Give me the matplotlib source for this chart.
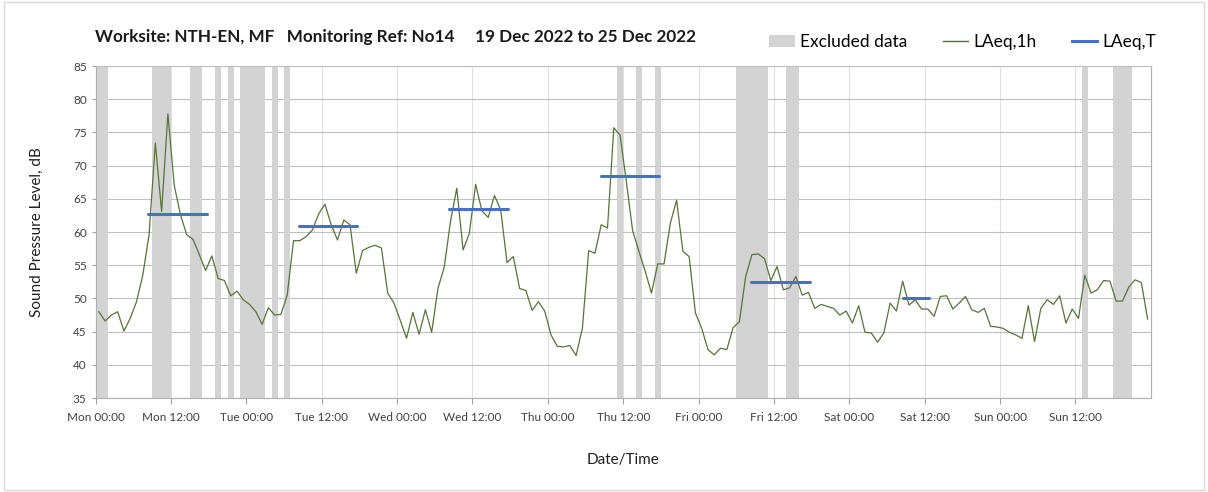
import numpy as np
import matplotlib.pyplot as plt
from matplotlib.patches import Patch, Rectangle
from matplotlib.lines import Line2D

plt.rcParams['font.family'] = ['Lato', 'DejaVu Sans']

# hourly LAeq,1h values, Mon 00:00 .. Sun 23:00 (one per hour)
laeq_1h = [
    48.0, 46.6, 47.5, 48.0, 45.1, 47.0, 49.5, 53.5, 59.6, 73.4, 63.1, 77.8,
    67.1, 62.6, 59.6, 58.9, 56.6, 54.2, 56.4, 53.0, 52.7, 50.4, 51.1, 49.8,
    49.1, 48.0, 46.1, 48.6, 47.5, 47.6, 50.5, 58.7, 58.7, 59.3, 60.3, 62.7,
    64.2, 61.1, 58.8, 61.8, 61.1, 53.8, 57.2, 57.7, 58.0, 57.6, 50.8, 49.3,
    46.7, 44.0, 47.9, 44.6, 48.3, 44.9, 51.5, 54.7, 61.6, 66.6, 57.3, 59.8,
    67.2, 63.2, 62.2, 65.5, 63.3, 55.4, 56.3, 51.5, 51.2, 48.2, 49.5, 48.1,
    44.5, 42.8, 42.7, 42.9, 41.4, 45.5, 57.2, 56.8, 61.1, 60.6, 75.7, 74.6,
    67.6, 60.2, 57.1, 54.1, 50.8, 55.2, 55.2, 61.3, 64.8, 57.1, 56.3, 47.8,
    45.5, 42.3, 41.5, 42.5, 42.3, 45.6, 46.5, 53.3, 56.6, 56.7, 56.0, 52.7,
    54.8, 51.3, 51.6, 53.3, 50.5, 50.9, 48.5, 49.1, 48.8, 48.5, 47.5, 48.1,
    46.3, 48.9, 44.9, 44.8, 43.4, 44.8, 49.3, 48.1, 52.6, 49.0, 49.8, 48.4,
    48.4, 47.3, 50.3, 50.4, 48.4, 49.3, 50.3, 48.3, 47.9, 48.5, 45.8, 45.7,
    45.5, 44.9, 44.5, 44.0, 48.9, 43.5, 48.5, 49.8, 49.1, 50.4, 46.3, 48.4,
    47.0, 53.5, 50.8, 51.3, 52.7, 52.6, 49.6, 49.6, 51.7, 52.8, 52.4, 46.9,
]

# excluded periods, hours from Mon 00:00
excl_start = [0, 9, 15, 19, 21, 23, 28, 30, 83, 86, 89, 102, 110, 157, 162]
excl_end = [2, 12, 17, 20, 22, 27, 29, 31, 84, 87, 90, 107, 112, 158, 165]

# LAeq,T periods (hours from Mon 00:00) and levels
laeqT_start = [8.4, 32.3, 56.3, 80.4, 104.4, 128.5]
laeqT_end = [17.7, 41.6, 65.6, 89.7, 113.7, 132.7]
laeqT_val = [62.7, 60.9, 63.5, 68.4, 52.4, 50.0]

days = ["Mon", "Tue", "Wed", "Thu", "Fri", "Sat", "Sun"]
tick_labels = [f"{d} {t}" for d in days for t in ("00:00", "12:00")]

green = "#56743a"
blue = "#4472c4"
grey = "#d3d3d3"

fig = plt.figure(figsize=(12.08, 4.92), dpi=100)
fig.patches.append(Rectangle((0.003, 0.004), 0.994, 0.992, transform=fig.transFigure,
                             fill=False, edgecolor="#d9d9d9", linewidth=1))
ax = fig.add_axes([0.0792, 0.191, 0.8734, 0.6748])

for s, e in zip(excl_start, excl_end):
    ax.axvspan(s, e, color=grey, linewidth=0, zorder=1)

hours = np.arange(len(laeq_1h)) + 0.5
ax.plot(hours, laeq_1h, color=green, linewidth=0.9, zorder=3)

for s, e, v in zip(laeqT_start, laeqT_end, laeqT_val):
    ax.plot([s, e], [v, v], color=blue, linewidth=2.2, solid_capstyle="round", zorder=4)

ax.set_xlim(0, 168)
ax.set_ylim(35, 85)
ax.set_xticks(np.arange(0, 168, 12))
ax.set_xticklabels(tick_labels, fontsize=8.5, color="#404040")
ax.set_yticks(np.arange(35, 86, 5))
ax.tick_params(axis="y", labelsize=8.5, labelcolor="#404040", length=3, color="#a0a0a0")
ax.tick_params(axis="x", length=4, color="#a0a0a0", pad=6)

ax.grid(True, axis="y", color="#c0c0c0", linewidth=0.8, zorder=0)
ax.grid(True, axis="x", color="#e0e0e0", linewidth=0.8, zorder=0)
ax.set_axisbelow(True)
for side in ("left", "bottom", "right"):
    ax.spines[side].set_color("#b0b0b0")
ax.spines["top"].set_color("#c0c0c0")

ax.set_ylabel("Sound Pressure Level, dB", fontsize=11, color="#202020", labelpad=21)
ax.set_xlabel("Date/Time", fontsize=11, color="#202020", labelpad=22)

fig.text(0.079, 0.925, "Worksite: NTH-EN, MF   Monitoring Ref: No14     19 Dec 2022 to 25 Dec 2022",
         fontsize=12.3, fontweight="bold", color="#1a1a1a", va="center")

handles = [
    Patch(facecolor=grey, edgecolor="none", label="Excluded data"),
    Line2D([], [], color=green, linewidth=1, label="LAeq,1h"),
    Line2D([], [], color=blue, linewidth=2.2, label="LAeq,T"),
]
fig.legend(handles=handles, loc="center right", bbox_to_anchor=(0.957, 0.915), ncol=3,
           frameon=False, fontsize=12.5, handlelength=1.45, handletextpad=0.3,
           columnspacing=2.05, borderpad=0, borderaxespad=0)

fig.savefig("out.png", dpi=100)
